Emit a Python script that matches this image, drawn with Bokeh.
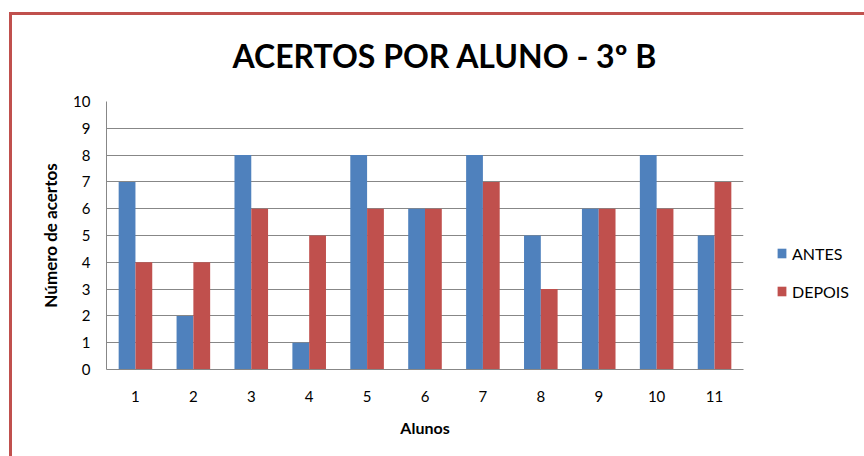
from bokeh.plotting import figure
from bokeh.models import FactorRange, Range1d, Legend, LegendItem, ColumnDataSource, FixedTicker, Title
from bokeh.transform import dodge
from bokeh.embed import file_html
from bokeh.resources import INLINE

alunos = ["1", "2", "3", "4", "5", "6", "7", "8", "9", "10", "11"]
antes = [7, 2, 8, 1, 8, 6, 8, 5, 6, 8, 5]
depois = [4, 4, 6, 5, 6, 6, 7, 3, 6, 6, 7]
y_ticks = list(range(0, 11))
title_text = "ACERTOS POR ALUNO - 3º B"

FONT = "Lato"
BLUE = "#4F81BD"
RED = "#C0504D"
GRID = "#878787"

src = ColumnDataSource(dict(x=alunos, antes=antes, depois=depois))

p = figure(
    x_range=FactorRange(factors=alunos, range_padding=0),
    y_range=Range1d(0, 10),
    width=852, height=441,
    frame_width=637, frame_height=268,
    min_border_left=94, min_border_right=121, min_border_top=86, min_border_bottom=87,
    output_backend="svg", toolbar_location=None, title=None,
)
p.styles = {"border-left": f"3px solid {RED}", "border-top": f"3px solid {RED}",
            "margin-left": "9px", "margin-top": "12px"}

r1 = p.vbar(x=dodge("x", -0.145, range=p.x_range), top="antes", width=0.29,
            source=src, fill_color=BLUE, line_color=None)
r2 = p.vbar(x=dodge("x", 0.145, range=p.x_range), top="depois", width=0.29,
            source=src, fill_color=RED, line_color=None)

p.outline_line_color = None
p.background_fill_color = "white"
p.border_fill_color = "white"
p.xgrid.grid_line_color = None
p.ygrid.grid_line_color = GRID
p.ygrid.grid_line_width = 1
p.yaxis.ticker = FixedTicker(ticks=y_ticks)

for ax in (p.xaxis[0], p.yaxis[0]):
    ax.axis_line_color = GRID
    ax.major_tick_in = 0
    ax.major_tick_out = 0
    ax.minor_tick_in = 0
    ax.minor_tick_out = 0
    ax.major_label_text_font = FONT
    ax.major_label_text_font_size = "15px"
    ax.major_label_text_color = "black"
    ax.axis_label_text_font = FONT
    ax.axis_label_text_font_style = "bold"
    ax.axis_label_text_color = "black"

p.xaxis.axis_label = "Alunos"
p.yaxis.axis_label = "Número de acertos"
p.xaxis.axis_label_text_font_size = "16px"
p.yaxis.axis_label_text_font_size = "17px"
p.xaxis.major_label_standoff = 21
p.xaxis.axis_label_standoff = 13
p.yaxis.major_label_standoff = 16
p.yaxis.axis_label_standoff = 9

# spacer (nearest the frame), then the real title above it
spacer = Title(text=" ", text_font_size="8px", text_font=FONT)
p.add_layout(spacer, "above")
main_title = Title(text=title_text, align="left", offset=126, text_font=FONT,
                   text_font_style="bold", text_font_size="32px", text_color="black")
p.add_layout(main_title, "above")

legend = Legend(items=[LegendItem(label="ANTES", renderers=[r1]),
                       LegendItem(label="DEPOIS", renderers=[r2])],
                location=(33, 68))
legend.glyph_width = 11
legend.glyph_height = 12
legend.label_height = 20
legend.spacing = 18
legend.padding = 0
legend.margin = 0
legend.label_standoff = 5
legend.border_line_color = None
legend.background_fill_alpha = 0
legend.label_text_font = FONT
legend.label_text_font_size = "16px"
legend.label_text_color = "black"
p.add_layout(legend, "right")

open("out.html", "w").write(file_html(p, INLINE))
